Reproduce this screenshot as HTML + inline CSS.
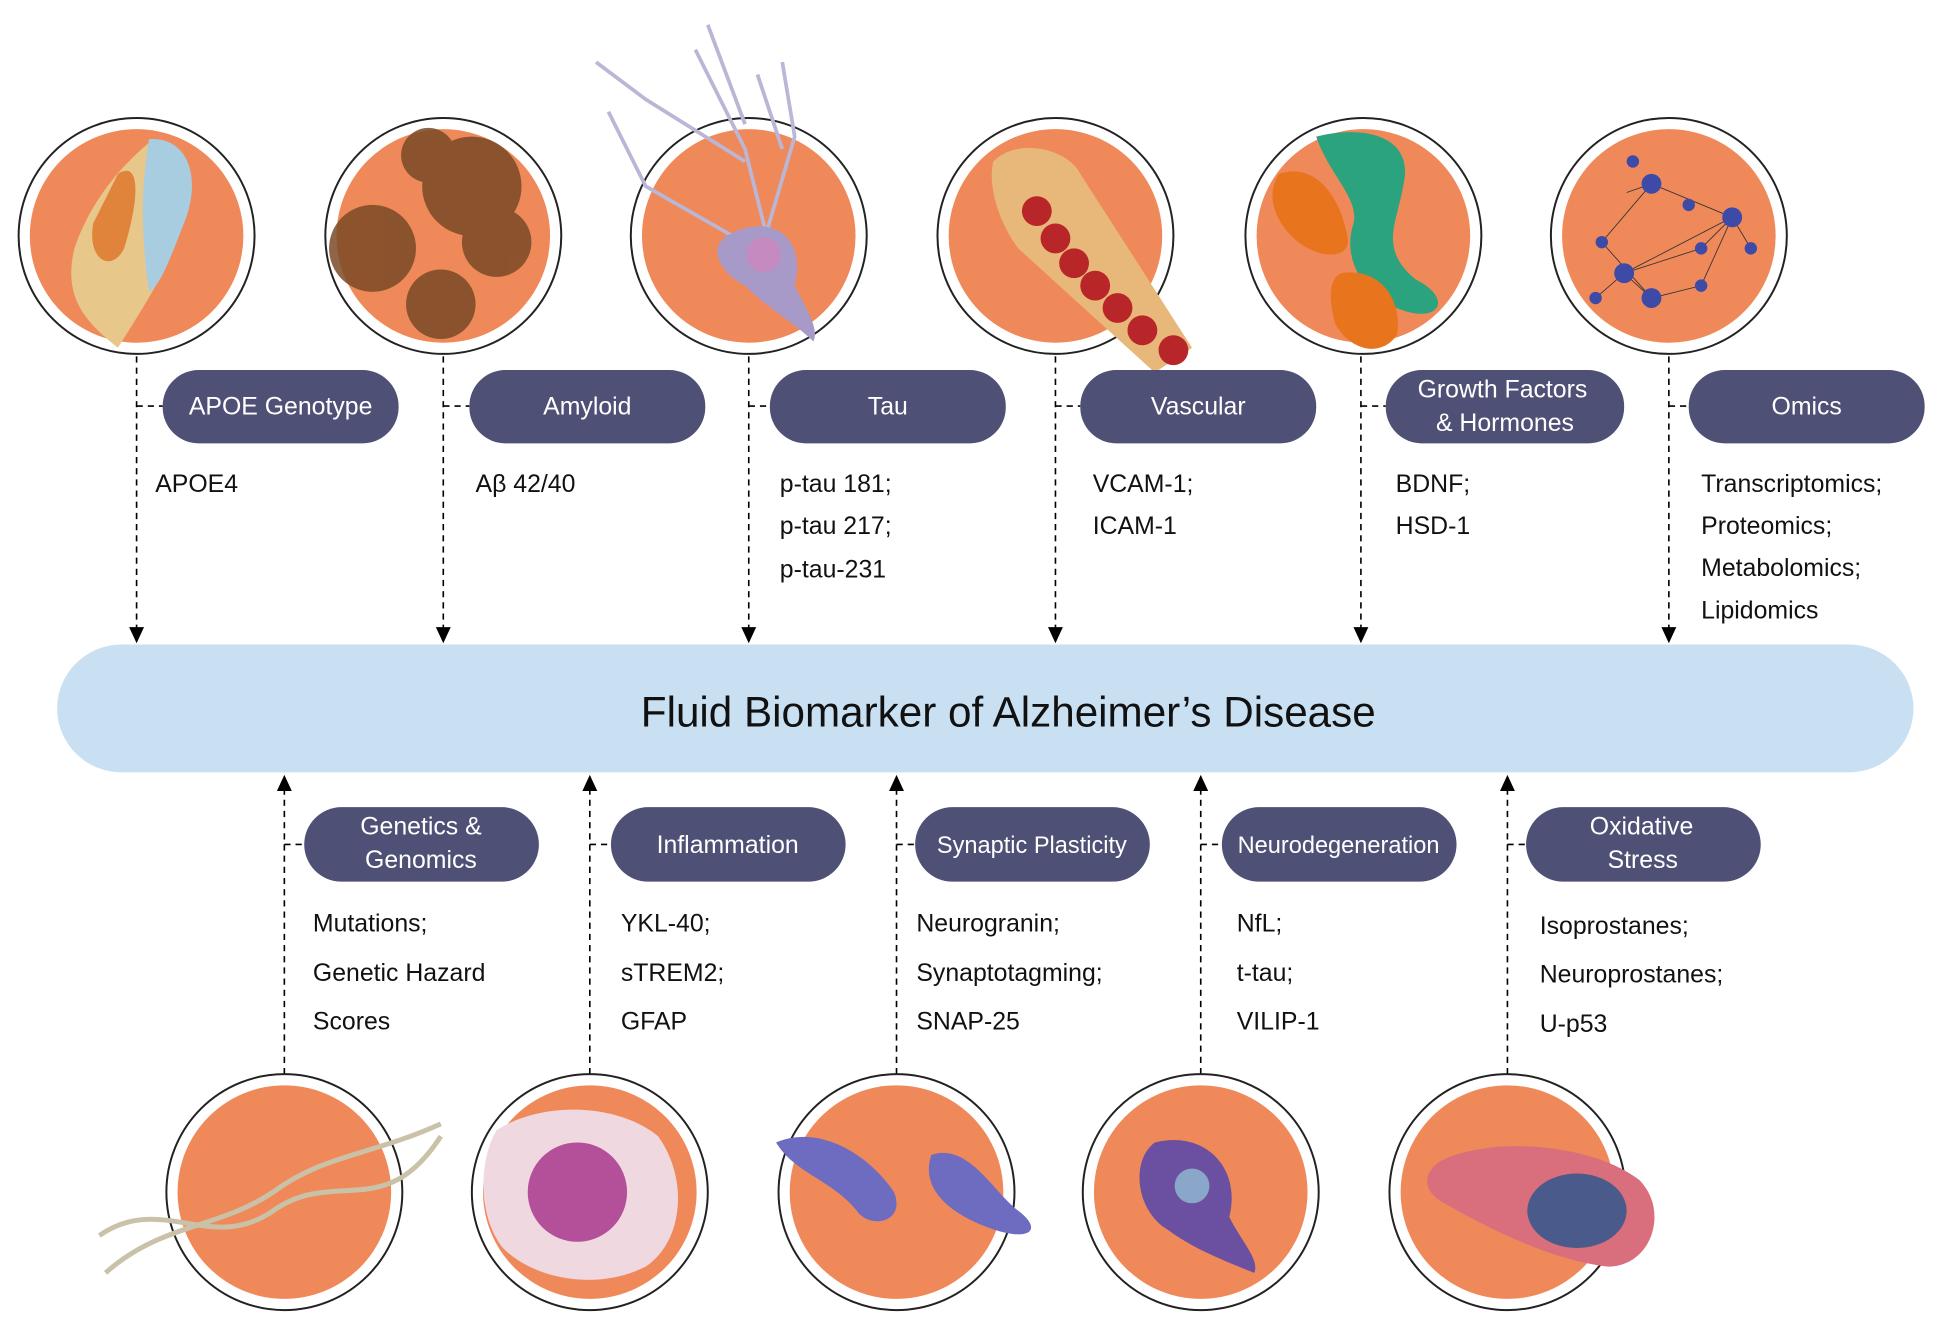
<!DOCTYPE html>
<html><head><meta charset="utf-8"><style>
html,body{margin:0;padding:0;background:#fff;}
svg{display:block;}
text{font-family:"Liberation Sans",sans-serif;}
</style></head><body>
<svg width="1947" height="1325" viewBox="0 0 1568 1067" preserveAspectRatio="none" xmlns="http://www.w3.org/2000/svg">
<defs>
<g id="circ"><circle r="95" fill="#fff" stroke="#222" stroke-width="1.6"/><circle r="86" fill="#f0895a"/></g>
<path id="dn" d="M-6,-13 L6,-13 L0,0z" fill="#000"/>
<path id="up" d="M-6,13 L6,13 L0,0z" fill="#000"/>
</defs>

<!-- top circles -->
<use href="#circ" x="110" y="190"/>
<use href="#circ" x="357" y="190"/>
<use href="#circ" x="603" y="190"/>
<use href="#circ" x="850" y="190"/>
<use href="#circ" x="1098" y="190"/>
<use href="#circ" x="1344" y="190"/>
<!-- APOE protein -->
<path d="M120,115 C150,110 160,140 150,170 C140,210 120,240 95,280 C70,260 50,240 60,200 C70,170 90,140 120,115z" fill="#e7c88a"/>
<path d="M120,112 C150,110 162,140 150,175 C140,200 130,230 120,235 C115,200 112,160 120,112z" fill="#a9cde0"/>
<path d="M95,140 C110,130 115,150 100,200 C90,220 70,210 75,180z" fill="#e0843c"/>
<!-- amyloid -->
<g fill="#7a4a26" opacity="0.85">
<circle cx="380" cy="150" r="40"/><circle cx="300" cy="200" r="35"/><circle cx="355" cy="245" r="28"/><circle cx="400" cy="195" r="28"/><circle cx="345" cy="125" r="22"/>
</g>
<!-- tau neuron -->
<g stroke="#b9b6d6" stroke-width="3" fill="none">
<path d="M620,200 L600,120 L560,40"/><path d="M615,195 L640,110 L630,50"/><path d="M600,130 L520,80 L480,50"/><path d="M590,190 L520,150 L490,90"/><path d="M600,100 L570,20"/><path d="M630,120 L610,60"/>
</g>
<path d="M585,190 C620,170 650,190 640,230 C650,250 660,265 655,275 C640,260 620,250 600,230 C580,220 570,200 585,190z" fill="#a89ac8"/>
<circle cx="615" cy="205" r="14" fill="#c58ac0"/>
<!-- vascular -->
<path d="M800,130 C820,110 860,120 870,140 L960,280 L930,300 L820,200 C805,180 795,150 800,130z" fill="#e8b87a"/>
<g fill="#b8262a"><circle cx="835" cy="170" r="12"/><circle cx="850" cy="192" r="12"/><circle cx="865" cy="212" r="12"/><circle cx="882" cy="230" r="12"/><circle cx="900" cy="248" r="12"/><circle cx="920" cy="266" r="12"/><circle cx="945" cy="282" r="12"/></g>
<!-- growth factor -->
<path d="M1060,110 C1100,100 1140,110 1130,150 C1125,180 1110,200 1140,225 C1170,240 1160,260 1130,250 C1100,240 1080,210 1090,180 C1095,160 1070,140 1060,110z" fill="#2ba37e"/>
<path d="M1030,140 C1060,130 1080,160 1085,190 C1090,210 1060,210 1040,190 C1025,175 1020,155 1030,140z" fill="#e8741e"/>
<path d="M1080,220 C1110,215 1130,240 1125,270 C1110,290 1085,280 1075,260 C1070,240 1070,225 1080,220z" fill="#e8741e"/>
<!-- omics network -->
<g stroke="#333" stroke-width="0.7" fill="none"><path d="M1310,155 L1330,148 L1395,175 L1308,220 L1330,240 L1290,195 L1330,148 M1308,220 L1370,200 L1395,175 L1410,200 M1308,220 L1285,240 M1330,240 L1370,230 L1395,175"/></g>
<g fill="#3d4aa8"><circle cx="1330" cy="148" r="8"/><circle cx="1395" cy="175" r="8"/><circle cx="1308" cy="220" r="8"/><circle cx="1330" cy="240" r="8"/><circle cx="1290" cy="195" r="5"/><circle cx="1370" cy="200" r="5"/><circle cx="1410" cy="200" r="5"/><circle cx="1285" cy="240" r="5"/><circle cx="1370" cy="230" r="5"/><circle cx="1315" cy="130" r="5"/><circle cx="1360" cy="165" r="5"/></g>

<!-- top connectors -->
<g stroke="#000" stroke-width="1.3" stroke-dasharray="5,4" fill="none">
<path d="M110,287 V506"/><path d="M110,327 H131"/>
<path d="M357,287 V506"/><path d="M357,327 H378"/>
<path d="M603,287 V506"/><path d="M603,327 H620"/>
<path d="M850,287 V506"/><path d="M850,327 H870"/>
<path d="M1096,287 V506"/><path d="M1096,327 H1116"/>
<path d="M1344,287 V506"/><path d="M1344,327 H1360"/>
</g>
<use href="#dn" x="110" y="518"/><use href="#dn" x="357" y="518"/><use href="#dn" x="603" y="518"/>
<use href="#dn" x="850" y="518"/><use href="#dn" x="1096" y="518"/><use href="#dn" x="1344" y="518"/>
<g fill="#4f5075">
<rect x="131" y="298" width="190" height="59" rx="29"/>
<rect x="378" y="298" width="190" height="59" rx="29"/>
<rect x="620" y="298" width="190" height="59" rx="29"/>
<rect x="870" y="298" width="190" height="59" rx="29"/>
<rect x="1116" y="298" width="192" height="59" rx="29"/>
<rect x="1360" y="298" width="190" height="59" rx="29"/>
</g>
<g fill="#fff" font-size="20" text-anchor="middle">
<text x="226" y="334">APOE Genotype</text>
<text x="473" y="334">Amyloid</text>
<text x="715" y="334">Tau</text>
<text x="965" y="334">Vascular</text>
<text x="1210" y="320">Growth Factors</text>
<text x="1212" y="347">&amp; Hormones</text>
<text x="1455" y="334">Omics</text>
</g>
<g fill="#111" font-size="20">
<text x="125" y="396">APOE4</text>
<text x="383" y="396">Aβ 42/40</text>
<text x="628" y="396">p-tau 181;</text><text x="628" y="430">p-tau 217;</text><text x="628" y="465">p-tau-231</text>
<text x="880" y="396">VCAM-1;</text><text x="880" y="430">ICAM-1</text>
<text x="1124" y="396">BDNF;</text><text x="1124" y="430">HSD-1</text>
<text x="1370" y="396">Transcriptomics;</text><text x="1370" y="430">Proteomics;</text><text x="1370" y="464">Metabolomics;</text><text x="1370" y="498">Lipidomics</text>
</g>

<!-- bar -->
<rect x="46" y="519" width="1495" height="103" rx="52" fill="#c9e0f3"/>
<text x="812" y="585" font-size="34" text-anchor="middle" fill="#111">Fluid Biomarker of Alzheimer’s Disease</text>

<!-- bottom connectors -->
<g stroke="#000" stroke-width="1.3" stroke-dasharray="5,4" fill="none">
<path d="M229,865 V636"/><path d="M229,680 H245"/>
<path d="M475,865 V636"/><path d="M475,680 H492"/>
<path d="M722,865 V636"/><path d="M722,680 H737"/>
<path d="M967,865 V636"/><path d="M967,680 H984"/>
<path d="M1214,865 V636"/><path d="M1214,680 H1229"/>
</g>
<use href="#up" x="229" y="624"/><use href="#up" x="475" y="624"/><use href="#up" x="722" y="624"/>
<use href="#up" x="967" y="624"/><use href="#up" x="1214" y="624"/>
<g fill="#4f5075">
<rect x="245" y="650" width="189" height="60" rx="30"/>
<rect x="492" y="650" width="189" height="60" rx="30"/>
<rect x="737" y="650" width="189" height="60" rx="30"/>
<rect x="984" y="650" width="189" height="60" rx="30"/>
<rect x="1229" y="650" width="189" height="60" rx="30"/>
</g>
<g fill="#fff" font-size="20" text-anchor="middle">
<text x="339" y="672">Genetics &amp;</text><text x="339" y="699">Genomics</text>
<text x="586" y="687">Inflammation</text>
<text x="831" y="687" font-size="19">Synaptic Plasticity</text>
<text x="1078" y="687" font-size="19">Neurodegeneration</text>
<text x="1322" y="672">Oxidative</text><text x="1323" y="699">Stress</text>
</g>
<g fill="#111" font-size="20">
<text x="252" y="750">Mutations;</text><text x="252" y="790">Genetic Hazard</text><text x="252" y="829">Scores</text>
<text x="500" y="750">YKL-40;</text><text x="500" y="790">sTREM2;</text><text x="500" y="829">GFAP</text>
<text x="738" y="750">Neurogranin;</text><text x="738" y="790">Synaptotagming;</text><text x="738" y="829">SNAP-25</text>
<text x="996" y="750">NfL;</text><text x="996" y="790">t-tau;</text><text x="996" y="829">VILIP-1</text>
<text x="1240" y="752">Isoprostanes;</text><text x="1240" y="791">Neuroprostanes;</text><text x="1240" y="831">U-p53</text>
</g>

<!-- bottom circles -->
<use href="#circ" x="229" y="960"/>
<use href="#circ" x="475" y="960"/>
<use href="#circ" x="722" y="960"/>
<use href="#circ" x="967" y="960"/>
<use href="#circ" x="1214" y="960"/>
<!-- DNA -->
<g stroke="#c9c2a8" stroke-width="4" fill="none">
<path d="M80,995 C130,960 170,1010 220,975 C270,940 310,985 355,915"/>
<path d="M85,1025 C130,985 175,990 220,960 C260,930 300,930 355,905"/>
</g>
<!-- cell -->
<path d="M400,910 C440,885 500,890 530,915 C555,950 550,1000 520,1020 C480,1040 430,1030 405,1005 C385,980 385,935 400,910z" fill="#efd8e0"/>
<circle cx="465" cy="960" r="40" fill="#b44f9a"/>
<!-- synapse -->
<path d="M625,920 C660,905 700,930 720,960 C730,985 700,990 690,975 C670,950 640,945 625,920z" fill="#6d6cc0"/>
<path d="M750,930 C780,920 800,960 820,975 C840,990 830,1000 800,990 C770,980 740,960 750,930z" fill="#6d6cc0"/>
<!-- neuron -->
<path d="M930,920 C970,910 1000,940 990,980 C1000,1000 1015,1015 1010,1025 C985,1015 960,1005 940,990 C915,975 910,935 930,920z" fill="#6b4fa0"/>
<circle cx="960" cy="955" r="14" fill="#8aa6c8"/>
<!-- mitochondrion -->
<path d="M1160,935 C1200,915 1280,920 1320,950 C1345,975 1330,1020 1295,1020 C1250,1015 1200,990 1165,970 C1145,960 1145,945 1160,935z" fill="#d96f7c"/>
<ellipse cx="1270" cy="975" rx="40" ry="30" fill="#4a5a8a"/>
</svg>
</body></html>
